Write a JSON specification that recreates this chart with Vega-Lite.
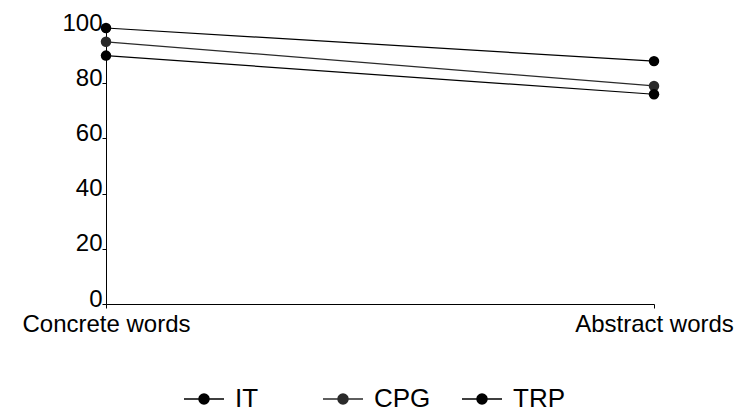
{
  "$schema": "https://vega.github.io/schema/vega-lite/v6.json",
  "width": 548,
  "height": 276,
  "autosize": {"type": "none"},
  "padding": {"left": 106, "top": 28, "right": 91, "bottom": 114},
  "background": "white",
  "data": {
    "values": [
      {"condition": "Concrete words", "group": "IT", "value": 100},
      {"condition": "Abstract words", "group": "IT", "value": 88},
      {"condition": "Concrete words", "group": "CPG", "value": 95},
      {"condition": "Abstract words", "group": "CPG", "value": 79},
      {"condition": "Concrete words", "group": "TRP", "value": 90},
      {"condition": "Abstract words", "group": "TRP", "value": 76}
    ]
  },
  "mark": {"type": "line", "strokeWidth": 1.2, "point": {"filled": true, "size": 110, "opacity": 1}},
  "encoding": {
    "x": {
      "field": "condition",
      "type": "nominal",
      "sort": ["Concrete words", "Abstract words"],
      "scale": {"type": "point", "padding": 0},
      "axis": {
        "title": null,
        "labelAngle": 0,
        "labelFont": "Liberation Sans",
        "labelFontSize": 24,
        "labelColor": "black",
        "labelBaseline": "top",
        "labelPadding": 4,
        "tickSize": 4,
        "tickColor": "black",
        "domainColor": "black",
        "domainWidth": 1,
        "grid": false
      }
    },
    "y": {
      "field": "value",
      "type": "quantitative",
      "scale": {"domain": [0, 100], "nice": false},
      "axis": {
        "title": null,
        "values": [0, 20, 40, 60, 80, 100],
        "labelFont": "Liberation Sans",
        "labelFontSize": 24,
        "labelColor": "black",
        "labelPadding": 0,
        "labelOffset": -5,
        "tickSize": 4,
        "tickColor": "black",
        "domainColor": "black",
        "domainWidth": 1,
        "grid": false
      }
    },
    "color": {
      "field": "group",
      "type": "nominal",
      "sort": ["IT", "CPG", "TRP"],
      "scale": {"domain": ["IT", "CPG", "TRP"], "range": ["black", "#2a2a2a", "black"]},
      "legend": {
        "title": null,
        "orient": "none",
        "direction": "horizontal",
        "legendX": 77,
        "legendY": 350,
        "padding": 0,
        "gridAlign": "all",
        "columnPadding": 28,
        "symbolType": "M-1,0H-0.25M0.25,0H1M-0.25,0A0.25,0.25 0 1,0 0.25,0A0.25,0.25 0 1,0 -0.25,0Z",
        "symbolSize": 1600,
        "symbolStrokeWidth": 1.5,
        "symbolFillColor": "black",
        "symbolStrokeColor": "black",
        "labelFont": "Liberation Sans",
        "labelFontSize": 26,
        "labelColor": "black",
        "labelOffset": 10,
        "encode": {
          "symbols": {"update": {"fill": {"value": "black"}, "stroke": {"value": "black"}, "strokeWidth": {"value": 1.5}, "opacity": {"value": 1}}}
        }
      }
    }
  },
  "config": {"view": {"stroke": null}}
}
